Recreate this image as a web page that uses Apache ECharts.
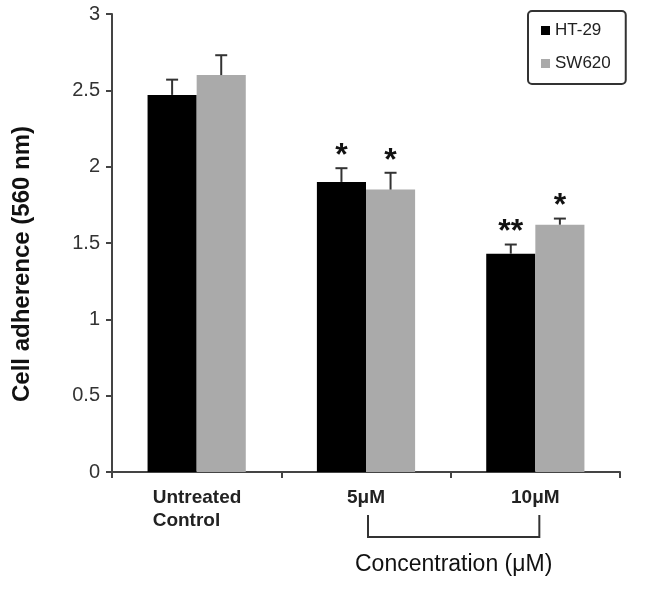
<!DOCTYPE html>
<html>
<head>
<meta charset="utf-8">
<script src="https://cdn.jsdelivr.net/npm/echarts@6/dist/echarts.min.js"></script>
<style>
html,body{margin:0;padding:0;background:#fff;}
#chart{width:653px;height:589px;}
</style>
</head>
<body>
<div id="chart"></div>
<script>
// ---- data ----
const categories = ['Untreated\nControl', '5μM', '10μM'];
const seriesNames = ['HT-29', 'SW620'];
const ht29Values = [2.47, 1.90, 1.43];
const sw620Values = [2.60, 1.85, 1.62];
const ht29Errors = [0.10, 0.09, 0.06];
const sw620Errors = [0.13, 0.11, 0.04];
const ht29Stars = ['', '*', '**'];
const sw620Stars = ['', '*', '*'];
const yTickLabels = ['0', '0.5', '1', '1.5', '2', '2.5', '3'];
const yAxisTitle = 'Cell adherence (560 nm)';
const bracketTitle = 'Concentration (μM)';

const FONT = "'Liberation Sans', Arial, sans-serif";
const BAR_FRAC = 0.29;

function errData(vals, errs) {
  return vals.map((v, i) => [i, v, errs[i]]);
}

function makeErrRender(side, stars) {
  return function (params, api) {
    const ci = api.value(0);
    const v = api.value(1);
    const e = api.value(2);
    const bandW = api.size([1, 0])[0];
    const bw = bandW * BAR_FRAC;
    const base = api.coord([ci, v]);
    const top = api.coord([ci, v + e]);
    const x = base[0] + (side === 0 ? -bw / 2 : bw / 2);
    const st = { stroke: '#333', lineWidth: 2 };
    const children = [
      { type: 'line', shape: { x1: x, y1: base[1], x2: x, y2: top[1] }, style: st },
      { type: 'line', shape: { x1: x - 6, y1: top[1], x2: x + 6, y2: top[1] }, style: st }
    ];
    const s = stars[params.dataIndex];
    if (s) {
      children.push({
        type: 'text',
        style: {
          text: s, x: x, y: top[1] - 12,
          align: 'center', verticalAlign: 'middle',
          font: "bold 32px 'Liberation Sans', Arial, sans-serif",
          fill: '#111'
        }
      });
    }
    return { type: 'group', children: children };
  };
}

const chart = echarts.init(document.getElementById('chart'));
const option = {
  animation: false,
  backgroundColor: '#fff',
  textStyle: { fontFamily: FONT },
  grid: { left: 112, right: 33, top: 14, bottom: 117, containLabel: false },
  legend: {
    data: seriesNames,
    orient: 'vertical',
    left: 528, top: 11,
    icon: 'rect',
    itemWidth: 9, itemHeight: 9, itemGap: 16,
    padding: [11, 15, 12, 13],
    borderColor: '#333', borderWidth: 2, borderRadius: 4,
    textStyle: { fontSize: 17, color: '#222', fontFamily: FONT }
  },
  xAxis: {
    type: 'category',
    data: categories,
    axisLine: { lineStyle: { color: '#444', width: 2 } },
    axisTick: { show: true, length: 6, lineStyle: { color: '#444', width: 2 } },
    axisLabel: {
      margin: 14,
      fontSize: 19, fontWeight: 'bold', color: '#222', fontFamily: FONT,
      lineHeight: 23,
      formatter: function (v) {
        if (v.indexOf('\n') >= 0) {
          return v.split('\n').map(p => '{w|' + p + '}').join('\n');
        }
        return v;
      },
      rich: {
        w: { width: 88, align: 'left', fontSize: 19, fontWeight: 'bold', color: '#222', fontFamily: FONT, lineHeight: 23 }
      }
    }
  },
  yAxis: {
    type: 'value',
    min: 0, max: 3, interval: 0.5,
    splitLine: { show: false },
    axisLine: { show: true, lineStyle: { color: '#444', width: 2 } },
    axisTick: { show: true, length: 6, lineStyle: { color: '#444', width: 2 } },
    axisLabel: {
      margin: 12, fontSize: 20, color: '#333', fontFamily: FONT,
      formatter: function (v) { return yTickLabels[Math.round(v / 0.5)]; }
    }
  },
  series: [
    {
      name: seriesNames[0], type: 'bar', data: ht29Values,
      barWidth: (BAR_FRAC * 100) + '%', barGap: '0%',
      itemStyle: { color: '#000' }
    },
    {
      name: seriesNames[1], type: 'bar', data: sw620Values,
      barWidth: (BAR_FRAC * 100) + '%', barGap: '0%',
      itemStyle: { color: '#aaaaaa' }
    },
    {
      name: 'err0', type: 'custom', data: errData(ht29Values, ht29Errors),
      renderItem: makeErrRender(0, ht29Stars), z: 5,
      encode: { x: 0, y: 1 }
    },
    {
      name: 'err1', type: 'custom', data: errData(sw620Values, sw620Errors),
      renderItem: makeErrRender(1, sw620Stars), z: 5,
      encode: { x: 0, y: 1 }
    }
  ]
};
chart.setOption(option);

// bracket under the concentration categories, y-axis title
const p1 = chart.convertToPixel({ xAxisIndex: 0 }, categories[1]);
const p2 = chart.convertToPixel({ xAxisIndex: 0 }, categories[2]);
const y0 = chart.convertToPixel({ yAxisIndex: 0 }, 0);
const yTop = y0 + 43;
const yBot = yTop + 22;
chart.setOption({
  graphic: [
    {
      type: 'polyline',
      shape: { points: [[p1 + 2, yTop], [p1 + 2, yBot], [p2 + 4, yBot], [p2 + 4, yTop]] },
      style: { stroke: '#333', lineWidth: 2, fill: null }
    },
    {
      type: 'text',
      x: (p1 + p2) / 2 + 3, y: yBot + 28,
      style: {
        text: bracketTitle, align: 'center', verticalAlign: 'middle',
        font: "23px 'Liberation Sans', Arial, sans-serif", fill: '#111'
      }
    },
    {
      type: 'text',
      x: 22, y: y0 - 208,
      rotation: Math.PI / 2,
      style: {
        text: yAxisTitle, align: 'center', verticalAlign: 'middle',
        font: "bold 24px 'Liberation Sans', Arial, sans-serif", fill: '#111'
      }
    }
  ]
});
</script>
</body>
</html>
